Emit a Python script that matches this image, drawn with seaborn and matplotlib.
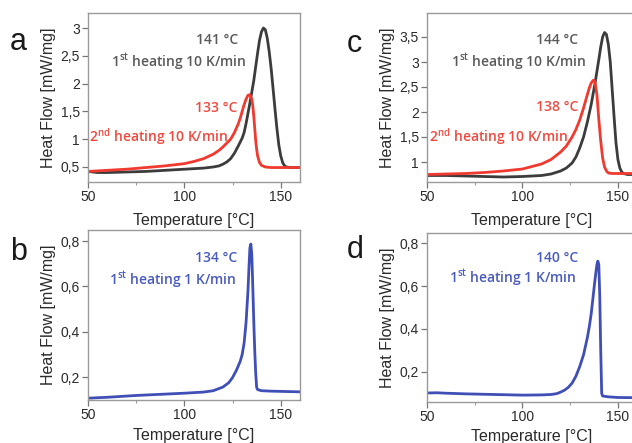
import numpy as np
import pandas as pd
import matplotlib
matplotlib.use("Agg")
import matplotlib.pyplot as plt
import seaborn as sns
from matplotlib.ticker import FixedLocator, FuncFormatter

# panel a: 10 K/min, 1st (gray) and 2nd (red) heating
a1_T = [50, 55, 60, 70, 80, 90, 100, 105, 110, 115, 118, 120, 122, 124, 126, 128, 130, 131, 132, 134, 136,
        137, 138, 139, 140, 141, 142, 143, 144, 145, 146, 147, 148, 149, 150, 151, 152, 153, 155, 160]
a1_hf = [0.42, 0.40, 0.40, 0.41, 0.42, 0.44, 0.46, 0.47, 0.48, 0.50, 0.52, 0.55, 0.59, 0.65, 0.75, 0.88, 1.02, 1.12,
         1.28, 1.65, 2.05, 2.30, 2.55, 2.78, 2.93, 3.00, 2.97, 2.82, 2.58, 2.28, 1.92, 1.55, 1.20, 0.90, 0.70, 0.58,
         0.52, 0.50, 0.49, 0.49]
a2_T = [50, 60, 70, 80, 90, 100, 105, 110, 115, 118, 120, 122, 124, 126, 128, 129, 130, 131, 132, 133, 134, 135,
        135.5, 136, 136.5, 137, 137.5, 138, 139, 140, 142, 145, 150, 160]
a2_hf = [0.42, 0.44, 0.46, 0.49, 0.52, 0.56, 0.60, 0.65, 0.73, 0.80, 0.86, 0.93, 1.00, 1.12, 1.28, 1.38, 1.50, 1.62,
         1.72, 1.79, 1.80, 1.72, 1.60, 1.42, 1.20, 0.98, 0.82, 0.70, 0.58, 0.53, 0.50, 0.49, 0.49, 0.49]

# panel b: 1 K/min
b_T = [50, 60, 75, 90, 100, 110, 115, 120, 123, 125, 127, 129, 130, 131, 132, 133, 133.5, 134, 134.5, 135, 135.5,
       136, 136.5, 137, 137.5, 138, 140, 145, 150, 160]
b_hf = [0.107, 0.111, 0.119, 0.125, 0.129, 0.134, 0.140, 0.156, 0.175, 0.198, 0.23, 0.27, 0.30, 0.35, 0.44, 0.58,
        0.68, 0.77, 0.787, 0.74, 0.60, 0.45, 0.32, 0.22, 0.155, 0.145, 0.140, 0.138, 0.137, 0.135]

# panel c: 10 K/min, 1st (gray) and 2nd (red) heating
c1_T = [50, 60, 70, 80, 90, 100, 110, 115, 120, 123, 126, 128, 130, 132, 134, 136, 138, 140, 141, 142, 143, 144,
        145, 146, 147, 148, 149, 150, 151, 152, 153, 155, 160]
c1_hf = [0.73, 0.73, 0.72, 0.71, 0.70, 0.71, 0.73, 0.76, 0.82, 0.88, 0.98, 1.10, 1.28, 1.50, 1.80, 2.15, 2.57, 3.05,
         3.30, 3.50, 3.59, 3.55, 3.35, 3.00, 2.45, 1.90, 1.38, 1.05, 0.88, 0.80, 0.77, 0.75, 0.75]
c2_T = [50, 60, 70, 80, 90, 100, 110, 115, 120, 123, 126, 128, 130, 132, 134, 135, 136, 137, 137.5, 138, 139, 140,
        141, 142, 143, 144, 145, 147, 150, 160]
c2_hf = [0.75, 0.76, 0.77, 0.79, 0.82, 0.86, 0.96, 1.05, 1.20, 1.32, 1.50, 1.65, 1.84, 2.08, 2.35, 2.48, 2.58, 2.63,
         2.64, 2.60, 2.35, 1.85, 1.42, 1.08, 0.90, 0.82, 0.78, 0.77, 0.77, 0.77]

# panel d: 1 K/min
d_T = [50, 55, 60, 70, 80, 90, 100, 110, 115, 118, 120, 122, 124, 126, 128, 130, 132, 134, 135, 136, 137, 138, 139,
       139.5, 140, 140.5, 141, 141.5, 142, 145, 150, 160]
d_hf = [0.102, 0.103, 0.101, 0.098, 0.096, 0.094, 0.092, 0.093, 0.095, 0.099, 0.106, 0.115, 0.128, 0.148, 0.18,
        0.225, 0.28, 0.36, 0.41, 0.47, 0.55, 0.63, 0.70, 0.716, 0.70, 0.55, 0.30, 0.10, 0.088, 0.084, 0.081, 0.08]

x_ticks = [50, 100, 150]
a_yticks = [0.5, 1, 1.5, 2, 2.5, 3]
c_yticks = [1, 1.5, 2, 2.5, 3, 3.5]
bd_yticks = [0.2, 0.4, 0.6, 0.8]

GRAY, RED, BLUE = "#3c3c3c", "#f03a30", "#3f4fb5"
TXT_GRAY, TXT_RED, TXT_BLUE = "#5a5a5a", "#f04a40", "#4b5bbd"

sns.set_theme(style="ticks")
plt.rcParams["font.family"] = ["Liberation Sans", "DejaVu Sans"]

W, H = 632, 443
fig = plt.figure(figsize=(W / 100, H / 100), dpi=100)


def add_ax(left, top, right, bottom):
    return fig.add_axes([left / W, 1 - bottom / H, (right - left) / W, (bottom - top) / H])


def comma(v, pos):
    return f"{v:g}".replace(".", ",")


def style(ax, ylim, yticks, xpad):
    ax.set_xlim(50, 160)
    ax.set_ylim(*ylim)
    ax.xaxis.set_major_locator(FixedLocator(x_ticks))
    ax.xaxis.set_minor_locator(FixedLocator([75, 125]))
    ax.yaxis.set_major_locator(FixedLocator(yticks))
    ax.yaxis.set_major_formatter(FuncFormatter(comma))
    ax.tick_params(axis="both", which="major", direction="out", length=4, width=0.9, color="#777777",
                   labelsize=10, labelcolor="#2a2a2a", pad=2)
    ax.tick_params(axis="x", which="minor", direction="out", length=2, width=0.8, color="#999999")
    for sp in ax.spines.values():
        sp.set_color("#9a9a9a")
        sp.set_linewidth(1.0)
    ax.set_xlabel("Temperature [°C]", fontsize=11.5, color="#2a2a2a", labelpad=xpad)
    ax.set_ylabel("Heat Flow [mW/mg]", fontsize=11.5, color="#2a2a2a", labelpad=3)
    ax.set_facecolor("white")


def curve(ax, T, hf, color):
    df = pd.DataFrame({"T": T, "hf": hf})
    sns.lineplot(data=df, x="T", y="hf", ax=ax, color=color, lw=2.0, sort=False)


def note(x, y, s, color):
    fig.text(x / W, 1 - y / H, s, ha="right", va="center", fontsize=10, fontweight="semibold",
             color=color, family=["Open Sans", "DejaVu Sans"])


ax_a = add_ax(88, 13, 300, 182)
curve(ax_a, a1_T, a1_hf, GRAY)
curve(ax_a, a2_T, a2_hf, RED)
style(ax_a, (0.23, 3.27), a_yticks, 6)

ax_b = add_ax(88, 230, 300, 400)
curve(ax_b, b_T, b_hf, BLUE)
style(ax_b, (0.099, 0.849), bd_yticks, 4)

ax_c = add_ax(427, 13, 637, 182)
curve(ax_c, c1_T, c1_hf, GRAY)
curve(ax_c, c2_T, c2_hf, RED)
style(ax_c, (0.6, 3.98), c_yticks, 6)

ax_d = add_ax(427, 233, 637, 402)
curve(ax_d, d_T, d_hf, BLUE)
style(ax_d, (0.06, 0.847), bd_yticks, 3)

sup_st = r"1$^{\mathregular{st}}$"
sup_nd = r"2$^{\mathregular{nd}}$"

note(238, 40, "141 °C", TXT_GRAY)
note(247, 62, sup_st + " heating 10 K/min", TXT_GRAY)
note(237, 108, "133 °C", TXT_RED)
note(228, 137, sup_nd + " heating 10 K/min", TXT_RED)

note(237, 258, "134 °C", TXT_BLUE)
note(237, 280, sup_st + " heating 1 K/min", TXT_BLUE)

note(578, 40, "144 °C", TXT_GRAY)
note(587, 62, sup_st + " heating 10 K/min", TXT_GRAY)
note(578, 107, "138 °C", TXT_RED)
note(568, 137, sup_nd + " heating 10 K/min", TXT_RED)

note(578, 258, "140 °C", TXT_BLUE)
note(577, 278, sup_st + " heating 1 K/min", TXT_BLUE)

for lab, x, y in [("a", 18, 42), ("b", 19, 252), ("c", 354, 44), ("d", 355, 250)]:
    fig.text(x / W, 1 - y / H, lab, fontsize=22, ha="center", va="center", color="#1a1a1a")

fig.savefig("out.png", dpi=100, facecolor="white")
